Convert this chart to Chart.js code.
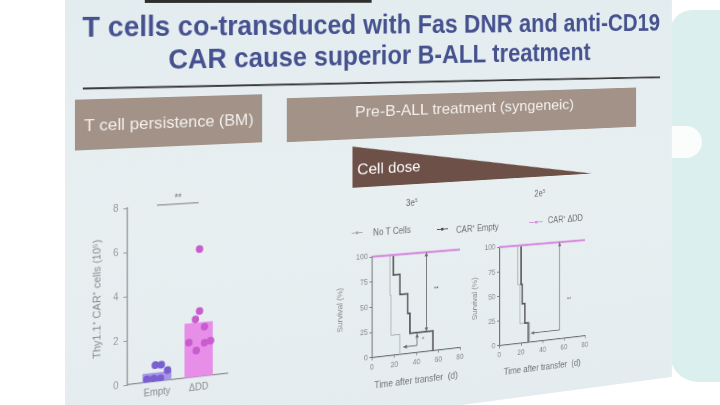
<!DOCTYPE html>
<html>
<head>
<meta charset="utf-8">
<script src="https://cdn.jsdelivr.net/npm/chart.js@4.4.1/dist/chart.umd.min.js"></script>
<style>
  html, body { margin: 0; width: 720px; height: 405px; overflow: hidden; background: #fff; font-family: "Liberation Sans", Arial, sans-serif; }
  .blob { position: absolute; background: #dcefef; }
  #slide {
    position: absolute; left: 65px; top: 0; width: 740px; height: 458px;
    background: linear-gradient(180deg, #e3ecef 0%, #e8eff1 50%, #e4ecef 100%);
    transform-origin: 0 0; transform: perspective(300px) rotateY(5deg);
    filter: blur(0.35px); overflow: hidden;
  }
  #slide canvas { position: absolute; }
  .t { position: absolute; white-space: nowrap; line-height: 1; transform-origin: 50% 50%; }
  .box { position: absolute; }
  .mk { position: absolute; height: 1.5px; }
</style>
</head>
<body>
<div class="blob" style="left:670px;top:10px;width:60px;height:372px;border-radius:22px 0 0 28px"></div>
<div class="blob" style="left:668px;top:126px;width:34px;height:32px;border-radius:0 16px 16px 0;background:#fbfdfd"></div>
<div id="slide">
  <div class="box" style="left:82px;top:0;width:256px;height:3px;background:#2e2e2e"></div>
  <div class="box" id="rule" style="left:18px;top:88px;width:705px;height:2px;background:#3a3a3a;transform-origin:0 0;transform:rotate(0.36deg)"></div>
  <div class="box" style="left:10px;top:100px;width:200px;height:51px;background:#a29288"></div>
  <div class="box" style="left:238px;top:104.6px;width:450px;height:47.5px;background:#a29288"></div>
  <div class="box" style="left:315px;top:160px;width:310px;height:45px;background:#6d5047;clip-path:polygon(0 0,100% 100%,0 100%)"></div>
  <canvas id="persist"></canvas>
  <canvas id="dose3"></canvas>
  <canvas id="dose2"></canvas>
</div>
<script>
// T cell persistence (BM)
const groups = ['Empty', 'ΔDD'];
const barMeans = [0.4, 2.5];
const emptyX = [-0.04, 0.10, 0.25, -0.24, -0.08, 0.08];
const emptyY = [0.76, 0.74, 0.47, 0.15, 0.15, 0.12];
const dddX = [0.02, 0.02, -0.08, 0.14, -0.24, -0.06, 0.14, 0.29];
const dddY = [5.9, 3.03, 2.67, 2.29, 1.62, 1.22, 1.55, 1.61];
const cellTicks = [0, 2, 4, 6, 8];

// survival (%) vs days, two cell doses
const seriesNames = ['No T Cells', 'CAR⁺ Empty', 'CAR⁺ ΔDD'];
const doseLabels = ['3e⁵', '2e⁵'];
const noT3Days = [0, 16, 17, 25];
const noT3Surv = [100, 60, 20, 0];
const empty3Days = [0, 19, 25, 32, 34, 55];
const empty3Surv = [100, 80, 60, 40, 20, 0];
const ddd3Days = [0, 80];
const ddd3Surv = [100, 100];
const noT2Days = [0, 17, 19, 28];
const noT2Surv = [100, 60, 20, 0];
const empty2Days = [0, 20, 21, 23.5, 26.5];
const empty2Surv = [100, 60, 40, 20, 0];
const ddd2Days = [0, 80];
const ddd2Surv = [100, 100];
const dayTicks = [0, 20, 40, 60, 80];
const survTicks = [0, 25, 50, 75, 100];

const slide = document.getElementById('slide');

// text helper: centre at (cx, cy), squeeze to width w
function put(txt, cx, cy, w, css) {
    const el = document.createElement('div');
    el.className = 't';
    el.innerHTML = txt;
    Object.assign(el.style, css);
    slide.appendChild(el);
    const k = w ? w / el.offsetWidth : 1;
    el.style.left = (cx - el.offsetWidth / 2) + 'px';
    el.style.top = (cy - el.offsetHeight / 2) + 'px';
    el.style.transform = 'scaleX(' + k + ')';
    return el;
}

const titleCss = { font: 'bold 29px "Liberation Sans", Arial, sans-serif', color: '#46528f' };
put('T cells co-transduced with Fas DNR and anti-CD19', 370, 27.5, 705, titleCss);
put('CAR cause superior B-ALL treatment', 364.5, 61, 516, titleCss);
const bannerCss = { font: '17px "Liberation Sans", Arial, sans-serif', color: '#f3f0ed' };
put('T cell persistence (BM)', 110, 127, 181.6, bannerCss);
put('Pre-B-ALL treatment (syngeneic)', 459, 123, 282, bannerCss);
put('Cell dose', 359.8, 186, 77.3, { font: '17px "Liberation Sans", Arial, sans-serif', color: '#fff' });
const smallCss = { font: '10px "Liberation Sans", Arial, sans-serif', color: '#6a6a6a' };
put(doseLabels[0].replace('⁵', '<sup style="font-size:6px">5</sup>'), 387, 225.8, 0, smallCss);
put(doseLabels[1].replace('⁵', '<sup style="font-size:6px">5</sup>'), 553, 224, 0, smallCss);

// shared legend
const lineColors = ['#a9a9a9', '#505050', '#d68ede'];
const legendPos = [[314.4, 327.3, 254.5, 339.7, 255], [418.9, 432.8, 257.6, 443.0, 258.5], [538.6, 557.5, 257.6, 564.3, 256]];
seriesNames.forEach((n, i) => {
    const p = legendPos[i];
    const m = document.createElement('div');
    m.className = 'mk';
    Object.assign(m.style, { left: p[0] + 'px', top: (p[2] - 0.75) + 'px', width: (p[1] - p[0]) + 'px', background: lineColors[i] });
    slide.appendChild(m);
    const d = document.createElement('div');
    d.className = 'mk';
    Object.assign(d.style, { left: ((p[0] + p[1]) / 2 - 1.5) + 'px', top: (p[2] - 1.5) + 'px', width: '3px', height: '3px', background: lineColors[i] });
    slide.appendChild(d);
    const el = put(n, 0, p[4], 0, { font: '10px "Liberation Sans", Arial, sans-serif', color: '#6f6f6f' });
    el.style.left = p[3] + 'px';
});

// annotations (arrows, stars) in data units
const notes = {
    id: 'notes',
    afterDatasetsDraw(chart, args, o) {
        const { ctx, scales: { x, y } } = chart;
        ctx.save();
        ctx.strokeStyle = o.color;
        ctx.fillStyle = o.color;
        ctx.lineWidth = 1;
        (o.arrows || []).forEach(a => {
            const x1 = x.getPixelForValue(a.from[0]), y1 = y.getPixelForValue(a.from[1]);
            const x2 = x.getPixelForValue(a.to[0]), y2 = y.getPixelForValue(a.to[1]);
            ctx.beginPath();
            ctx.moveTo(x1, y1);
            ctx.lineTo(x2, y2);
            ctx.stroke();
            if (a.head !== 'none') head(ctx, x1, y1, x2, y2);
            if (a.head === 'both') head(ctx, x2, y2, x1, y1);
        });
        ctx.font = o.font;
        ctx.textAlign = 'center';
        ctx.textBaseline = 'middle';
        (o.texts || []).forEach(t => ctx.fillText(t.t, x.getPixelForValue(t.x), y.getPixelForValue(t.y)));
        ctx.restore();
    }
};

function head(ctx, x1, y1, x2, y2) {
    const a = Math.atan2(y2 - y1, x2 - x1), s = 5;
    ctx.beginPath();
    ctx.moveTo(x2, y2);
    ctx.lineTo(x2 - s * Math.cos(a - 0.45), y2 - s * Math.sin(a - 0.45));
    ctx.lineTo(x2 - s * Math.cos(a + 0.45), y2 - s * Math.sin(a + 0.45));
    ctx.closePath();
    ctx.fill();
}

// place a chart so its plot area lands on (l, t, r, b)
function build(id, area, yw, xh, padT, padR, config) {
    const cv = document.getElementById(id);
    cv.width = Math.round(yw + area.r - area.l + padR);
    cv.height = Math.round(padT + area.b - area.t + xh);
    config.options.responsive = false;
    config.options.animation = false;
    config.options.layout = { padding: { top: padT, right: padR, left: 0, bottom: 0 } };
    config.options.scales.y.afterFit = s => { s.width = yw; };
    config.options.scales.x.afterFit = s => { s.height = xh; };
    config.plugins = [notes];
    const ch = new Chart(cv, config);
    cv.style.left = (area.l - ch.chartArea.left) + 'px';
    cv.style.top = (area.t - ch.chartArea.top) + 'px';
    return ch;
}

const ff = '"Liberation Sans", Arial, sans-serif';
const pts = (xs, ys) => xs.map((v, i) => ({ x: v, y: ys[i] }));

build('persist', { l: 63.4, t: 211.8, r: 170.7, b: 392.1 }, 41.6, 22, 24, 6, {
    type: 'bar',
    data: {
        datasets: [
            { type: 'scatter', data: pts(emptyX, emptyY), backgroundColor: '#7a5fd0', pointRadius: 4, borderWidth: 0, order: 0 },
            { type: 'scatter', data: pts(dddX.map(v => 1 + v), dddY), backgroundColor: '#c95ccf', pointRadius: 4, borderWidth: 0, order: 1 },
            { type: 'bar', data: barMeans.map((v, i) => ({ x: i, y: v })), backgroundColor: ['#a895e6', '#e78ee9'], barThickness: 30, order: 2 }
        ]
    },
    options: {
        plugins: {
            legend: { display: false }, tooltip: { enabled: false },
            notes: { color: '#7a7a7a', font: '10px ' + ff, arrows: [{ from: [0, 8.05], to: [1, 8.05], head: 'none' }], texts: [{ t: '**', x: 0.5, y: 8.28 }] }
        },
        scales: {
            x: {
                type: 'linear', min: -0.7, max: 1.7, offset: false,
                afterBuildTicks: s => { s.ticks = groups.map((g, i) => ({ value: i })); },
                ticks: { callback: v => groups[v], color: '#8a8a8a', font: { size: 10, family: ff }, padding: 5 },
                grid: { display: true, offset: false, drawOnChartArea: false, drawTicks: false },
                border: { color: '#8c8c8c', width: 1.2 }
            },
            y: {
                min: 0, max: 8,
                afterBuildTicks: s => { s.ticks = cellTicks.map(v => ({ value: v })); },
                ticks: { color: '#9a9a9a', font: { size: 10, family: ff }, padding: 5 },
                grid: { drawOnChartArea: false, tickLength: 4, color: '#9a9a9a' },
                border: { color: '#8c8c8c', width: 1.2 },
                title: { display: true, text: 'Thy1.1⁺ CAR⁺ cells (10⁵)', color: '#8a8a8a', font: { size: 11, family: ff } }
            }
        }
    }
});

function survival(id, area, yw, ds, arrows, texts) {
    return build(id, area, yw, 41.3, 8, 10, {
        type: 'line',
        data: {
            datasets: ds.map((d, i) => ({
                data: pts(d[0], d[1]), stepped: true, pointRadius: 0,
                borderColor: lineColors[i], borderWidth: [1, 1.8, 2.6][i], order: [2, 1, 0][i], clip: false
            }))
        },
        options: {
            plugins: {
                legend: { display: false }, tooltip: { enabled: false },
                notes: { color: '#6a6a6a', font: '8px ' + ff, arrows: arrows, texts: texts }
            },
            scales: {
                x: {
                    type: 'linear', min: 0, max: 80,
                    afterBuildTicks: s => { s.ticks = dayTicks.map(v => ({ value: v })); },
                    ticks: { color: '#8a8a8a', font: { size: 8.5, family: ff }, padding: 3 },
                    grid: { drawOnChartArea: false, tickLength: 3, color: '#777' },
                    border: { color: '#6e6e6e', width: 1.2 },
                    title: { display: true, text: 'Time after transfer  (d)', color: '#727272', font: { size: 10.5, family: ff } }
                },
                y: {
                    min: 0, max: 100,
                    afterBuildTicks: s => { s.ticks = survTicks.map(v => ({ value: v })); },
                    ticks: { color: '#8a8a8a', font: { size: 8.5, family: ff }, padding: 2 },
                    grid: { drawOnChartArea: false, tickLength: 3, color: '#777' },
                    border: { color: '#6e6e6e', width: 1.2 },
                    title: { display: true, text: 'Survival (%)', color: '#8a8a8a', font: { size: 9, family: ff } }
                }
            }
        }
    });
}

survival('dose3', { l: 338.5, t: 281.9, r: 448.1, b: 392.4 }, 47.4,
    [[noT3Days, noT3Surv], [empty3Days, empty3Surv], [ddd3Days, ddd3Surv]],
    [{ from: [49, 20], to: [49, 100], head: 'both' },
     { from: [40.5, 7], to: [40.5, 19], head: 'end' },
     { from: [40.5, 7], to: [28, 7], head: 'end' }],
    [{ t: '**', x: 58, y: 62 }, { t: '*', x: 46, y: 13 }]);

survival('dose2', { l: 499.2, t: 282.5, r: 615.3, b: 395.0 }, 41.1,
    [[noT2Days, noT2Surv], [empty2Days, empty2Surv], [ddd2Days, ddd2Surv]],
    [{ from: [56, 9], to: [56, 100], head: 'end' },
     { from: [56, 9], to: [29, 9], head: 'end' }],
    [{ t: '**', x: 65, y: 40 }]);
</script>
</body>
</html>
